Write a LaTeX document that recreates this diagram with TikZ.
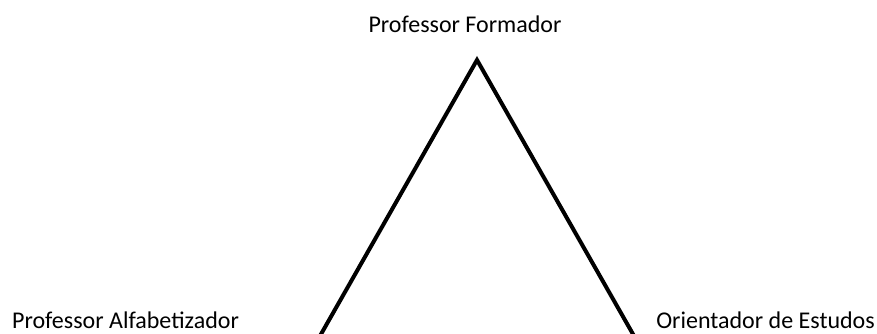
\documentclass[tikz,border=0pt]{standalone}
\usepackage{fontspec}
\setmainfont{Carlito}
\usetikzlibrary{positioning}

\begin{document}
\begin{tikzpicture}[
  x=1pt, y=1pt,
  role/.style={font=\fontsize{24}{29}\selectfont, inner sep=0pt},
  side/.style={line width=4pt}
]
\useasboundingbox (0,0) rectangle (877,-334);
\clip (0,0) rectangle (877,-334);
\node[role, anchor=base] (formador) at (465,-33) {Professor Formador};
\node[role, anchor=base west] (alfab) at (12,-328) {Professor Alfabetizador};
\node[role, anchor=base east] (orient) at (875,-328) {Orientador de Estudos};

\coordinate (topo) at (477,-60);
\coordinate (esq) at (312,-350);
\coordinate (dir) at (642,-350);
\draw[side, line join=miter] (esq) -- (topo) -- (dir);
\end{tikzpicture}
\end{document}
